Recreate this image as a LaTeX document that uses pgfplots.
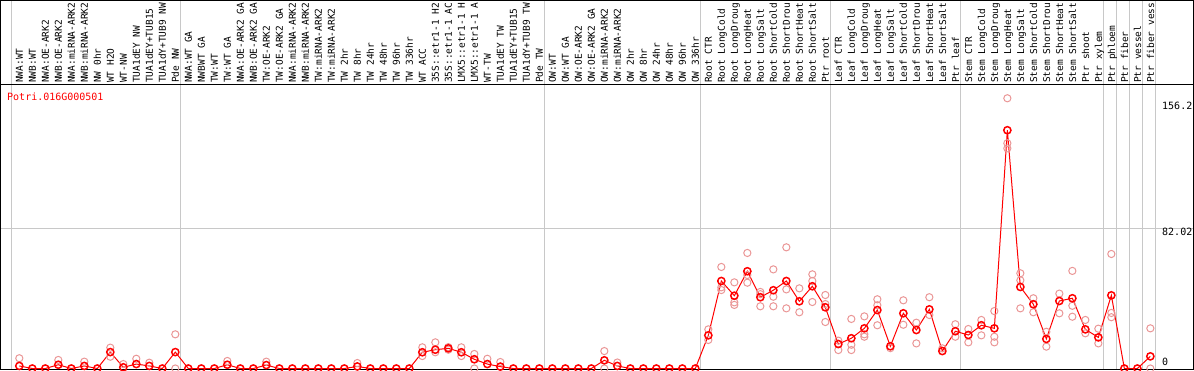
\documentclass[border=0pt]{standalone}
\usepackage{fontspec}
\usepackage{pgfplots}
\pgfplotsset{compat=1.18}
\newfontfamily\lab{DejaVu Sans Mono}
\newcommand\labf{\lab\fontsize{10}{10}\selectfont}
\newcommand\labx{\lab\fontsize{9.5}{9.5}\selectfont}
\definecolor{rep}{RGB}{234,150,150}
\definecolor{sep}{RGB}{200,200,200}
\begin{document}
\begin{tikzpicture}
\useasboundingbox (0,0) rectangle (1194pt,370pt);
\clip (0,0) rectangle (1194pt,370pt);
\begin{axis}[
 at={(1pt,1pt)}, anchor=south west,
 scale only axis, width=1192pt, height=368pt,
 xmin=-0.408, xmax=91.28, ymin=-0.29, ymax=215.0,
 axis line style={black, line width=1pt},
 xtick={1,...,88},
 xticklabels={NWA:WT,NWB:WT,NWA:OE-ARK2,NWB:OE-ARK2,NWA:miRNA-ARK2,NWB:miRNA-ARK2,NW 0hr,WT H2O,WT-NW,TUA1dEY NW,TUA1dEY+TUB15,TUA1dY+TUB9 NW,Pde NW,
 NWA:WT GA,NWBWT GA,TW:WT,TW:WT GA,NWA:OE-ARK2 GA,NWB:OE-ARK2 GA,TW:OE-ARK2,TW:OE-ARK2 GA,NWA:miRNA-ARK2,NWB:miRNA-ARK2,TW:miRNA-ARK2,TW:miRNA-ARK2,TW 2hr,TW 8hr,TW 24hr,TW 48hr,TW 96hr,TW 336hr,WT ACC,35S::etr1-1 H2,35S::etr1-1 AC,LMX5::etr1-1 H,LMX5::etr1-1 A,WT-TW,TUA1dEY TW,TUA1dEY+TUB15,TUA1dY+TUB9 TW,Pde TW,
 OW:WT,OW:WT GA,OW:OE-ARK2,OW:OE-ARK2 GA,OW:miRNA-ARK2,OW:miRNA-ARK2,OW 2hr,OW 8hr,OW 24hr,OW 48hr,OW 96hr,OW 336hr,
 Root CTR,Root LongCold,Root LongDroug,Root LongHeat,Root LongSalt,Root ShortCold,Root ShortDrou,Root ShortHeat,Root ShortSalt,Ptr root,
 Leaf CTR,Leaf LongCold,Leaf LongDroug,Leaf LongHeat,Leaf LongSalt,Leaf ShortCold,Leaf ShortDrou,Leaf ShortHeat,Leaf ShortSalt,Ptr leaf,
 Stem CTR,Stem LongCold,Stem LongDroug,Stem LongHeat,Stem LongSalt,Stem ShortCold,Stem ShortDrou,Stem ShortHeat,Stem ShortSalt,Ptr shoot,Ptr xylem,
 Ptr phloem,Ptr fiber,Ptr vessel,Ptr fiber vess},
 xticklabel pos=upper,
 x tick label style={font=\labx, yshift=-82pt, rotate=90, anchor=west, inner sep=0pt, text height=0.73em, text depth=0pt},
 major tick length=0pt, minor tick length=0pt,
 minor xtick={0.38,13.38,41.38,53.38,63.38,73.38,84.38,85.38,86.38,87.38,88.38},
 xminorgrids, minor grid style={sep, line width=1pt},
 ytick={82.02}, yticklabels={82.02}, ymajorgrids, major grid style={sep, line width=1pt},
 extra y ticks={0,156.2}, extra y tick labels={0,156.2}, extra y tick style={grid=none},
 yticklabel pos=upper,
 /pgf/number format/assume math mode=true,
 y tick label style={font=\labf, anchor=west, xshift=-31pt, inner sep=0pt, text height=0.73em, text depth=0pt, yshift={ifthenelse(\tick<1,7,-4)}},
 clip=false,
]
\draw[black, line width=1pt] (axis cs:-0.408,165.9) -- (axis cs:91.28,165.9);
\node[anchor=west, text=red, font=\labf, inner sep=0pt, text height=0.73em, text depth=0pt, xshift=6pt, yshift=-96pt] at (rel axis cs:0,1) {Potri.016G000501};
\addplot[only marks, mark=o, mark size=3.6pt, color=rep, mark options={line width=1pt}] coordinates {
(1,6.0)(4,5.0)(6,4.0)(8,12.2)(8,6.9)(9,2.6)(10,5.7)(11,3.4)(13,20.0)(13,0)(17,4.4)(20,4.0)(27,3.2)
(32,12.4)(32,7.3)(33,15.3)(33,9.5)(34,12.5)(34,11.0)(35,12.4)(35,7.3)(36,8.5)(36,0)(37,5.7)(38,3.8)
(46,10.2)(46,0)(47,3.5)
(54,22.9)(54,16.7)(55,59.4)(55,45.9)(55,47.5)(56,50.4)(56,38.7)(56,37.2)(57,67.6)(57,50.2)(57,54.7)
(58,44.8)(58,36.4)(58,43.5)(59,58.0)(59,42.0)(59,36.4)(60,70.9)(60,46.3)(60,35.2)(61,46.9)(61,32.9)
(62,55.1)(62,51.2)(62,38.9)(63,43.0)(63,27.2)(63,37.7)
(64,16.3)(64,10.8)(65,29.0)(65,13.9)(65,10.8)(66,30.5)(66,20.0)(66,18.6)(67,40.5)(67,37.0)(67,25.3)
(68,11.9)(69,39.9)(69,25.6)(70,26.8)(70,14.7)(71,41.7)(71,31.3)(72,11.8)(73,25.9)(73,18.6)
(74,23.1)(74,15.3)(75,28.4)(75,19.4)(76,33.6)(76,15.3)(76,18.6)(77,158.1)(77,131.8)(77,128.8)
(78,55.7)(78,51.6)(78,35.2)(79,41.1)(79,32.9)(80,21.5)(80,12.8)(81,43.8)(81,32.3)
(82,57.1)(82,36.7)(82,30.3)(83,28.4)(83,20.6)(84,23.3)(84,14.7)(85,67.0)(85,32.5)(85,30.0)(88,23.5)(88,0)
};
\addplot[red, line width=1pt, mark=o, mark size=3.6pt, mark options={line width=1.5pt}] coordinates {
(1,1.5)(2,0)(3,0)(4,2.2)(5,0)(6,1.5)(7,0)(8,9.6)(9,0.7)(10,2.6)(11,1.5)(12,0)(13,9.6)
(14,0)(15,0)(16,0)(17,2.2)(18,0)(19,0)(20,2.0)(21,0)(22,0)(23,0)(24,0)(25,0)(26,0)(27,1.2)
(28,0)(29,0)(30,0)(31,0)(32,9.5)(33,11.0)(34,11.8)(35,9.5)(36,5.4)(37,2.6)(38,1.1)(39,0)(40,0)(41,0)
(42,0)(43,0)(44,0)(45,0)(46,4.8)(47,1.5)(48,0)(49,0)(50,0)(51,0)(52,0)(53,0)
(54,19.4)(55,51.2)(56,42.6)(57,56.9)(58,41.7)(59,45.8)(60,51.2)(61,39.3)(62,48.1)(63,35.8)
(64,14.3)(65,17.7)(66,23.5)(67,34.2)(68,13.0)(69,32.3)(70,22.5)(71,34.6)(72,10.2)(73,21.8)
(74,19.6)(75,25.3)(76,23.5)(77,139.4)(78,47.7)(79,37.6)(80,17.3)(81,39.5)(82,41.1)(83,22.9)(84,18.2)
(85,42.8)(86,0)(87,0)(88,7.1)
};
\end{axis}
\end{tikzpicture}
\end{document}
